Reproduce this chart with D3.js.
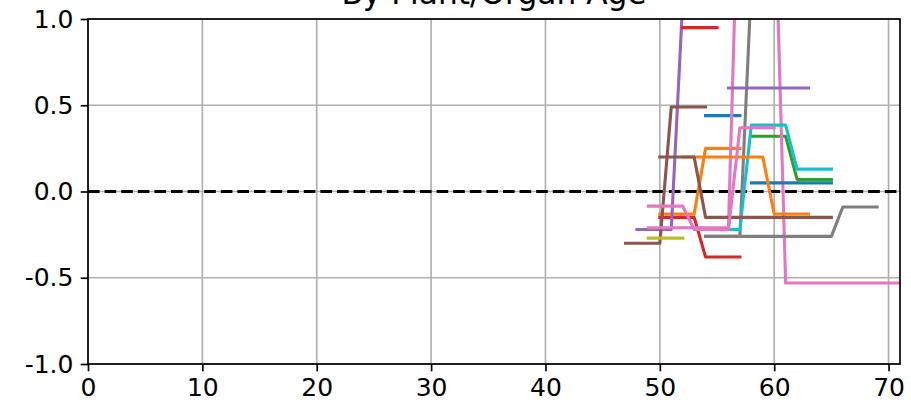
<!DOCTYPE html>
<html>
<head>
<meta charset="utf-8">
<script src="https://cdn.jsdelivr.net/npm/d3@7"></script>
<style>
  html, body { margin: 0; padding: 0; background: #fff; }
  svg { display: block; font-family: "DejaVu Sans", sans-serif; }
</style>
</head>
<body>
<svg id="chart" width="911" height="411"></svg>
<script>
// ---- data (age, value) ----
const titleText = "By Plant/Organ Age";
const xTicks = [0, 10, 20, 30, 40, 50, 60, 70];
const yTicks = [-1.0, -0.5, 0.0, 0.5, 1.0];
const yTickLabels = ["-1.0", "-0.5", "0.0", "0.5", "1.0"];
const xDomain = [0, 71];
const yDomain = [-1, 1];

const blueA   = [[54, 0.44], [57, 0.44]];
const orangeA = [[50, -0.13], [53, -0.13], [54, 0.25], [57, 0.25]];
const greenA  = [[58, 0.32], [61, 0.32], [62, 0.07], [65, 0.07]];
const redA    = [[50, -0.15], [53, -0.15], [54, -0.38], [57, -0.38]];
const purpleA = [[48, -0.22], [51, -0.22], [52, 1.1]];
const brownA  = [[47, -0.30], [50, -0.30], [51, 0.49], [54, 0.49]];
const pinkA   = [[49, -0.21], [56, -0.21], [57, 2.1], [60, 1.8], [61, -0.53], [71, -0.53]];
const grayA   = [[54, -0.26], [57, -0.26], [58, 1.2]];
const oliveA  = [[49, -0.27], [52, -0.27]];
const cyanA   = [[54, -0.22], [57, -0.22], [58, 0.385], [61, 0.385], [62, 0.13], [65, 0.13]];
const blueB   = [[58, 0.05], [65, 0.05]];
const orangeB = [[52, 0.20], [59, 0.20], [60, -0.13], [63, -0.13]];
const redB    = [[52, 0.95], [55, 0.95]];
const purpleB = [[56, 0.60], [63, 0.60]];
const brownB  = [[50, 0.20], [53, 0.20], [54, -0.15], [65, -0.15]];
const pinkB   = [[49, -0.085], [52, -0.085], [53, -0.22], [56, -0.22], [57, 0.37], [60, 0.37]];
const grayB   = [[54, -0.26], [65, -0.26], [66, -0.09], [69, -0.09]];

const seriesList = [blueA, orangeA, greenA, redA, purpleA, brownA, pinkA, grayA, oliveA, cyanA,
                    blueB, orangeB, redB, purpleB, brownB, pinkB, grayB];
const seriesColorIndex = [0, 1, 2, 3, 4, 5, 6, 7, 8, 9, 0, 1, 3, 4, 5, 6, 7];
const referenceLine = 0;

// ---- drawing ----
const svg = d3.select("#chart");
const margin = { left: 88, right: 11, top: 19, bottom: 47 };
const W = 911, H = 411;
const x = d3.scaleLinear().domain(xDomain).range([margin.left, W - margin.right]);
const y = d3.scaleLinear().domain(yDomain).range([H - margin.bottom, margin.top]);
const palette = d3.schemeCategory10;
const gridColor = "#b0b0b0";
const tickFont = "25px";

svg.append("defs").append("clipPath").attr("id", "clip")
  .append("rect")
  .attr("x", x(xDomain[0])).attr("y", y(yDomain[1]))
  .attr("width", x(xDomain[1]) - x(xDomain[0]))
  .attr("height", y(yDomain[0]) - y(yDomain[1]));

// grid
const grid = svg.append("g");
grid.selectAll("line.gx").data(xTicks).join("line")
  .attr("x1", d => x(d)).attr("x2", d => x(d))
  .attr("y1", y(yDomain[0])).attr("y2", y(yDomain[1]))
  .attr("stroke", gridColor).attr("stroke-width", 1.67);
grid.selectAll("line.gy").data(yTicks).join("line")
  .attr("y1", d => y(d)).attr("y2", d => y(d))
  .attr("x1", x(xDomain[0])).attr("x2", x(xDomain[1]))
  .attr("stroke", gridColor).attr("stroke-width", 1.67);

const plot = svg.append("g").attr("clip-path", "url(#clip)");

// reference dashed line
plot.append("line")
  .attr("x1", x(xDomain[0])).attr("x2", x(xDomain[1]))
  .attr("y1", y(referenceLine)).attr("y2", y(referenceLine))
  .attr("stroke", "#000").attr("stroke-width", 3.1)
  .attr("stroke-dasharray", "11.6,5");

const line = d3.line().x(d => x(d[0])).y(d => y(d[1]));
seriesList.forEach((s, i) => {
  plot.append("path")
    .attr("d", line(s))
    .attr("fill", "none")
    .attr("stroke", palette[seriesColorIndex[i]])
    .attr("stroke-width", 3.1)
    .attr("stroke-linejoin", "round")
    .attr("stroke-linecap", "square");
});

// axes
const xAxis = d3.axisBottom(x).tickValues(xTicks).tickFormat(d3.format("d"))
  .tickSizeOuter(0).tickSize(7.3).tickPadding(7.3);
const yAxis = d3.axisLeft(y).tickValues(yTicks).tickFormat((d, i) => yTickLabels[i])
  .tickSizeOuter(0).tickSize(7.3).tickPadding(7.3);

const gx = svg.append("g").attr("transform", `translate(0,${y(yDomain[0])})`).call(xAxis);
const gy = svg.append("g").attr("transform", `translate(${x(xDomain[0])},0)`).call(yAxis);
[gx, gy].forEach(g => {
  g.select(".domain").remove();
  g.selectAll(".tick line").attr("stroke", "#000").attr("stroke-width", 1.67);
  g.selectAll(".tick text").attr("fill", "#000").style("font-size", tickFont)
    .style("font-family", "'DejaVu Sans', sans-serif");
});

// spines
svg.append("rect")
  .attr("x", x(xDomain[0])).attr("y", y(yDomain[1]))
  .attr("width", x(xDomain[1]) - x(xDomain[0]))
  .attr("height", y(yDomain[0]) - y(yDomain[1]))
  .attr("fill", "none").attr("stroke", "#000").attr("stroke-width", 1.67);

// title
svg.append("text")
  .attr("x", (x(xDomain[0]) + x(xDomain[1])) / 2)
  .attr("y", 4)
  .attr("text-anchor", "middle")
  .style("font-size", "31.25px")
  .attr("fill", "#000")
  .text(titleText);
</script>
</body>
</html>
